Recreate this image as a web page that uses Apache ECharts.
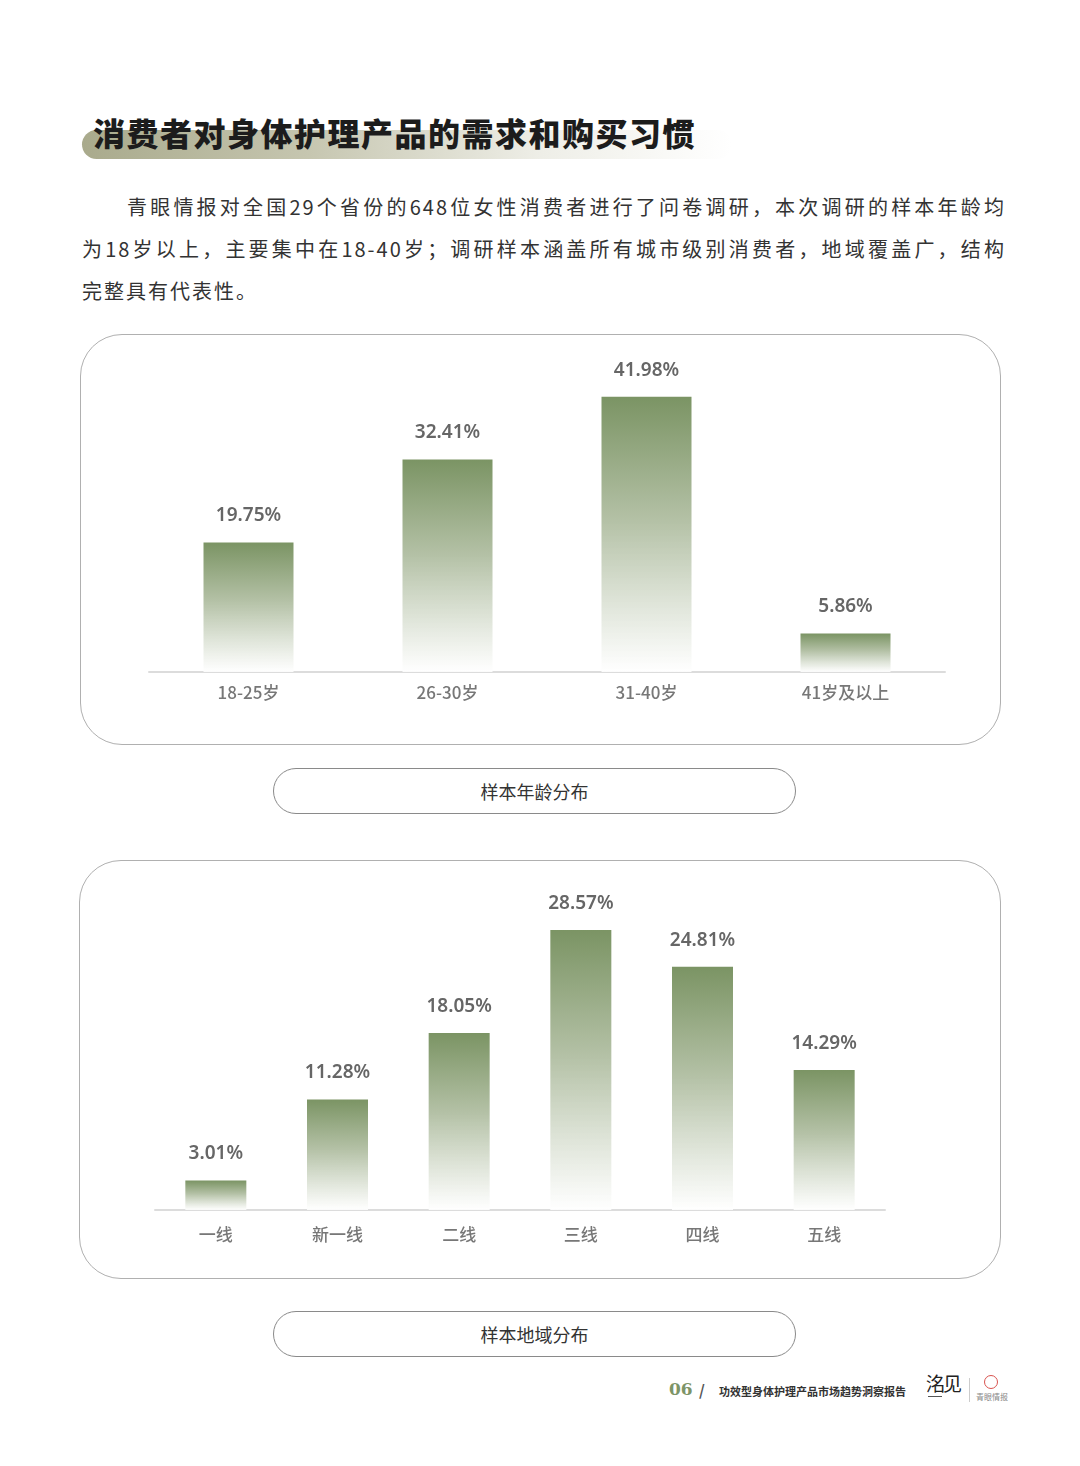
<!DOCTYPE html>
<html>
<head>
<meta charset="utf-8">
<script src="https://cdn.jsdelivr.net/npm/echarts@6/dist/echarts.min.js"></script>
<style>
  html, body { margin:0; padding:0; background:#fff; }
  body { width:1080px; height:1466px; position:relative; overflow:hidden; font-family:"Noto Sans CJK SC","Noto Sans",sans-serif; }
  .abs { position:absolute; }
  .title-hl { left:82px; top:130px; width:650px; height:29px; border-radius:15px;
    background:linear-gradient(90deg, #a9aa8c 0%, #c6c6b0 35%, rgba(226,226,214,0.6) 70%, rgba(255,255,255,0) 100%); }
  .title { left:93px; top:110px; font-size:32px; font-weight:900; color:#1c1c1c; letter-spacing:1.5px; white-space:nowrap; line-height:44px; }
  .pline { font-size:20px; color:#333; line-height:42px; height:42px; white-space:nowrap; letter-spacing:2px; }
  .just { text-align:justify; text-align-last:justify; }
  .box { border:1.3px solid #b0b0b0; border-radius:42px; box-sizing:border-box; }
  .pill { border:1.3px solid #8a8a8a; border-radius:23px; box-sizing:border-box; text-align:center; font-size:18px; color:#333; }
  .footer-num { left:669px; top:1379px; font-family:"DejaVu Serif","Liberation Serif",serif; font-weight:bold; font-size:17px; color:#7d9467; }
  .footer-slash { left:699px; top:1379px; font-size:15px; color:#555; font-weight:bold; }
  .footer-txt { left:719px; top:1383px; font-size:11px; font-weight:bold; color:#333; white-space:nowrap; }
</style>
</head>
<body>
<div class="abs title-hl"></div>
<div class="abs title">消费者对身体护理产品的需求和购买习惯</div>

<div class="abs pline just" style="left:127px;top:186px;width:879px;">青眼情报对全国29个省份的648位女性消费者进行了问卷调研，本次调研的样本年龄均</div>
<div class="abs pline just" style="left:82px;top:228px;width:924px;">为18岁以上，主要集中在18-40岁；调研样本涵盖所有城市级别消费者，地域覆盖广，结构</div>
<div class="abs pline" style="left:82px;top:270px;">完整具有代表性。</div>

<div class="abs box" style="left:80px;top:334px;width:921px;height:411px;"></div>
<div id="c1" class="abs" style="left:80px;top:334px;width:920px;height:410px;"></div>
<div class="abs pill" style="left:273px;top:768px;width:523px;height:46px;line-height:44px;">样本年龄分布</div>

<div class="abs box" style="left:79px;top:860px;width:922px;height:419px;"></div>
<div id="c2" class="abs" style="left:79px;top:860px;width:921px;height:418px;"></div>
<div class="abs pill" style="left:273px;top:1311px;width:523px;height:46px;line-height:44px;">样本地域分布</div>

<div class="abs footer-num">06</div>
<div class="abs footer-slash">/</div>
<div class="abs footer-txt">功效型身体护理产品市场趋势洞察报告</div>
<div class="abs" style="left:926px;top:1370px;font-family:'Noto Sans CJK SC';font-size:19px;color:#222;line-height:26px;letter-spacing:-2px;">洺见</div>
<div class="abs" style="left:928px;top:1396px;width:14px;height:1px;background:#555;"></div>
<div class="abs" style="left:969px;top:1378px;width:1px;height:24px;background:#ccc;"></div>
<div class="abs" style="left:984px;top:1375px;width:14px;height:14px;border:1.5px solid #d9534f;border-radius:50%;box-sizing:border-box;"></div>
<div class="abs" style="left:976px;top:1392px;font-size:8px;color:#888;white-space:nowrap;line-height:10px;">青眼情报</div>

<script>
// ---- data ----
const ageCategories = ['18-25岁', '26-30岁', '31-40岁', '41岁及以上'];
const ageValues = [19.75, 32.41, 41.98, 5.86];
const regionCategories = ['一线', '新一线', '二线', '三线', '四线', '五线'];
const regionValues = [3.01, 11.28, 18.05, 28.57, 24.81, 14.29];

function barGradient() {
  return new echarts.graphic.LinearGradient(0, 0, 0, 1, [
    { offset: 0, color: '#7b9464' },
    { offset: 0.45, color: '#b4c1a6' },
    { offset: 1, color: 'rgba(255,255,255,0.9)' }
  ]);
}

function makeOption(cats, vals, grid, max, barWidth, labelMargin, labelDist) {
  return {
    animation: false,
    grid: grid,
    xAxis: {
      type: 'category',
      data: cats,
      axisLine: { show: true, lineStyle: { color: '#dcdcdc', width: 2 } },
      axisTick: { show: false },
      axisLabel: { color: '#777', fontSize: 17, fontWeight: 500, margin: labelMargin,
        fontFamily: '"Noto Sans CJK SC","Noto Sans",sans-serif' }
    },
    yAxis: {
      type: 'value', min: 0, max: max,
      show: false,
      splitLine: { show: false }
    },
    series: [{
      type: 'bar',
      data: vals,
      barWidth: barWidth,
      itemStyle: { color: barGradient() },
      label: {
        show: true, position: 'top', distance: labelDist,
        formatter: p => p.value.toFixed(2) + '%',
        color: '#666', fontSize: 19, fontWeight: 600,
        fontFamily: '"Noto Sans","Open Sans",sans-serif'
      }
    }]
  };
}

const c1 = echarts.init(document.getElementById('c1'));
c1.setOption(makeOption(ageCategories, ageValues,
  { left: 69, width: 796, top: 43, bottom: 72 }, 45, 90, 12, 17));

const c2 = echarts.init(document.getElementById('c2'));
c2.setOption(makeOption(regionCategories, regionValues,
  { left: 76, width: 730, top: 56, bottom: 68 }, 30, 61, 16, 17));
</script>
</body>
</html>
